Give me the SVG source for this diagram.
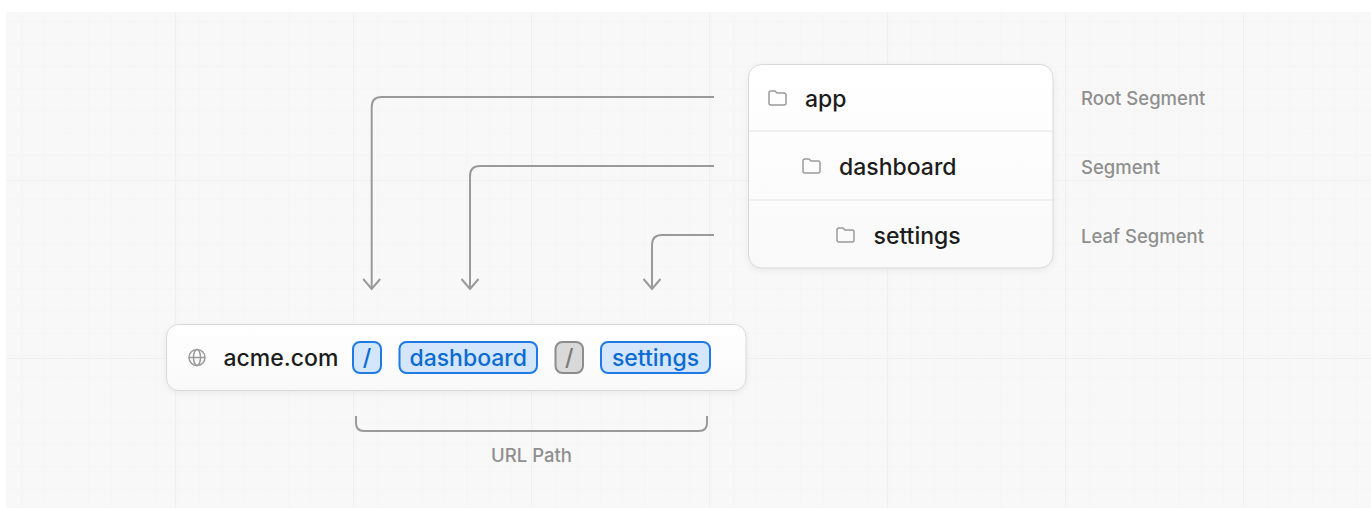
<svg xmlns="http://www.w3.org/2000/svg" xmlns:xlink="http://www.w3.org/1999/xlink" width="1371" height="509" viewBox="0 0 1371 509">
  <style>
    .main { font-family: Inter, "Liberation Sans", sans-serif; font-size: 23px; font-weight: 500; fill: #1c1c1c; }
    .label { font-family: Inter, "Liberation Sans", sans-serif; font-size: 18.5px; font-weight: 500; fill: #8f8f8f; }
    .pilltext { font-family: Inter, "Liberation Sans", sans-serif; font-size: 23px; font-weight: 500; fill: #0b6bd3; }
    .slashtext { font-family: Inter, "Liberation Sans", sans-serif; font-size: 23px; font-weight: 500; fill: #7a7a7a; }
    .conn { fill: none; stroke: #9a9a9a; stroke-width: 2; }
    .card { fill: url(#cardGrad); stroke: #d8d8d8; stroke-width: 1; filter: url(#shadow); }
    .divider { stroke: #e3e3e3; stroke-width: 1; }
    .pill { fill: #d3e6fb; stroke: #1f7ae5; stroke-width: 2; }
    .pillgrey { fill: #d9d9d9; stroke: #8c8c8c; stroke-width: 2; }
    .icon { fill: none; stroke: #9a9a9a; stroke-width: 1.5; }
  </style>
  <defs>
    <pattern id="minor" x="0" y="0" width="22.25" height="22.25" patternUnits="userSpaceOnUse">
      <path d="M22.25,0 V22.25 M0,22.25 H22.25" fill="none" stroke="#f3f3f3" stroke-width="1"/>
    </pattern>
    <pattern id="major" x="175" y="2" width="178" height="178" patternUnits="userSpaceOnUse">
      <path d="M0,0 V178 M0,0 H178" fill="none" stroke="#eeeeee" stroke-width="1.5"/>
    </pattern>
    <linearGradient id="cardGrad" x1="0" y1="0" x2="0" y2="1">
      <stop offset="0" stop-color="#ffffff"/>
      <stop offset="1" stop-color="#f9f9f9"/>
    </linearGradient>
    <filter id="shadow" x="-10%" y="-10%" width="120%" height="130%">
      <feDropShadow dx="0" dy="2" stdDeviation="3" flood-color="#000000" flood-opacity="0.06"/>
    </filter>
    <marker id="chev" markerUnits="userSpaceOnUse" markerWidth="24" markerHeight="24" viewBox="-12 -12 24 24" refX="0" refY="0" orient="auto">
      <path d="M-10,-8.5 L0,0 L-10,8.5" fill="none" stroke="#9a9a9a" stroke-width="2"/>
    </marker>
    <symbol id="folder" viewBox="0 0 19 16" width="19" height="16">
      <path d="M1,3 Q1,1 3,1 H7 L9,3 H16 Q18,3 18,5 V13 Q18,15 16,15 H3 Q1,15 1,13 Z" fill="none" stroke="#9a9a9a" stroke-width="1.5"/>
    </symbol>
  </defs>

  <rect x="0" y="0" width="1371" height="509" fill="#ffffff"/>
  <rect x="6" y="12" width="1365" height="496" fill="#f8f8f8"/>
  <rect x="6" y="12" width="1365" height="496" fill="url(#minor)"/>
  <rect x="6" y="12" width="1365" height="496" fill="url(#major)"/>

  <g id="connectors">
    <path class="conn" d="M714,97 H381.7 Q371.7,97 371.7,107 V289" marker-end="url(#chev)"/>
    <path class="conn" d="M714,166 H480 Q470,166 470,176 V289" marker-end="url(#chev)"/>
    <path class="conn" d="M714,235 H662 Q652,235 652,245 V289" marker-end="url(#chev)"/>
    <path class="conn" d="M356,416 V423 Q356,431 364,431 H699 Q707,431 707,423 V416"/>
  </g>

  <g id="tree">
    <rect class="card" x="748.5" y="64.5" width="304.5" height="203.5" rx="13"/>
    <line class="divider" x1="749" y1="131" x2="1052.5" y2="131"/>
    <line class="divider" x1="749" y1="200" x2="1052.5" y2="200"/>
  </g>
  <g id="node-app">
    <use href="#folder" x="768" y="90"/>
    <text class="main" x="805" y="106.5">app</text>
  </g>
  <g id="node-dashboard">
    <use href="#folder" x="802" y="158"/>
    <text class="main" x="839" y="174.5">dashboard</text>
  </g>
  <g id="node-settings">
    <use href="#folder" x="836" y="227"/>
    <text class="main" x="873.5" y="243.5">settings</text>
  </g>

  <g id="label-root"><text class="label" x="1081" y="105">Root Segment</text></g>
  <g id="label-segment"><text class="label" x="1081" y="174">Segment</text></g>
  <g id="label-leaf"><text class="label" x="1081" y="243">Leaf Segment</text></g>

  <g id="url-bar">
    <rect class="card" x="166.5" y="324.5" width="579.5" height="66" rx="12"/>
    <g class="icon">
      <circle cx="197" cy="357.5" r="8"/>
      <ellipse cx="197" cy="357.5" rx="3.5" ry="8"/>
      <line x1="189" y1="357.5" x2="205" y2="357.5"/>
    </g>
    <text class="main" x="223.5" y="365.5">acme.com</text>
  </g>
  <g id="pill-root">
    <rect class="pill" x="353" y="342" width="28" height="31" rx="7"/>
    <text class="pilltext" x="367" y="365.5" text-anchor="middle">/</text>
  </g>
  <g id="pill-dashboard">
    <rect class="pill" x="399.5" y="342" width="137.5" height="31" rx="7"/>
    <text class="pilltext" x="468.25" y="365.5" text-anchor="middle">dashboard</text>
  </g>
  <g id="pill-slash">
    <rect class="pillgrey" x="555.5" y="342" width="27.5" height="31" rx="7"/>
    <text class="slashtext" x="569.25" y="365.5" text-anchor="middle">/</text>
  </g>
  <g id="pill-settings">
    <rect class="pill" x="601" y="342" width="109" height="31" rx="7"/>
    <text class="pilltext" x="655.5" y="365.5" text-anchor="middle">settings</text>
  </g>

  <g id="label-url-path"><text class="label" x="531.5" y="462" text-anchor="middle">URL Path</text></g>
</svg>
